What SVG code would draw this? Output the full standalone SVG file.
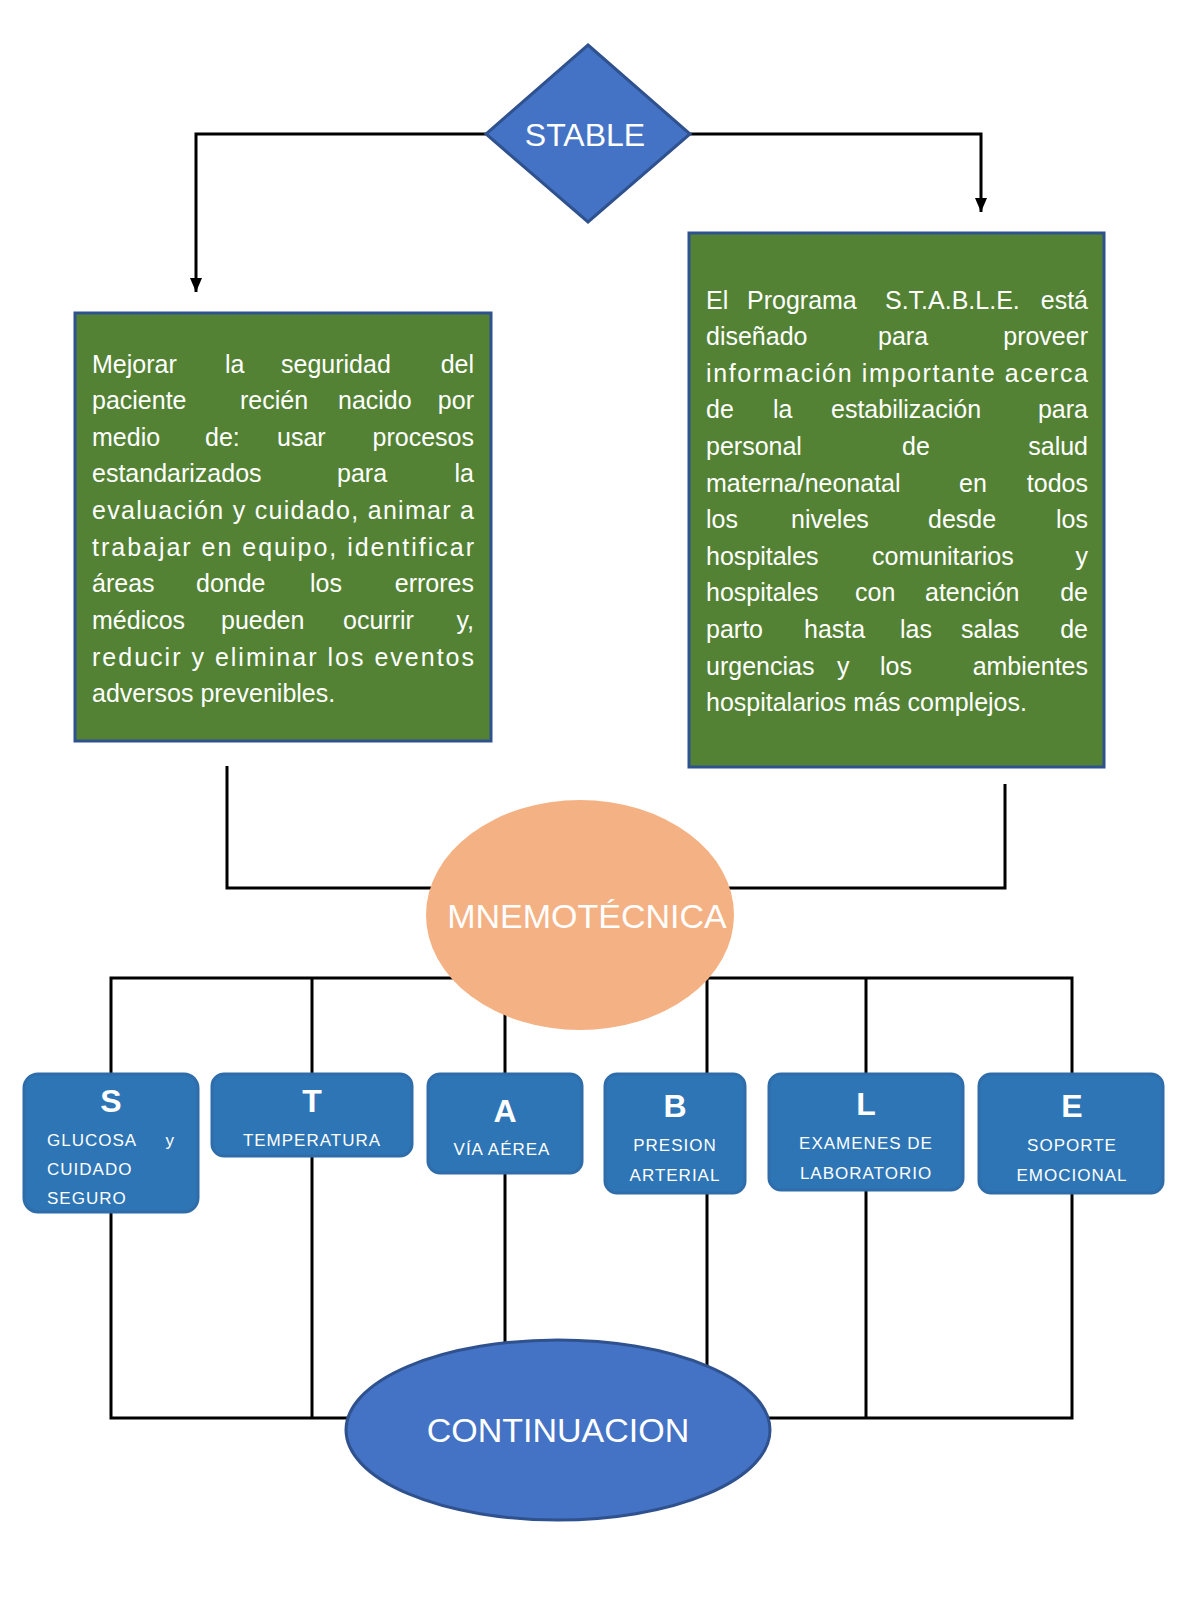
<svg xmlns="http://www.w3.org/2000/svg" width="1200" height="1600" viewBox="0 0 1200 1600">
<style>
.ln{fill:none;stroke:#000;stroke-width:3}
.g{fill:#548235;stroke:#2F528F;stroke-width:3}
.bx{fill:#2E75B6;stroke:#2F6DAA;stroke-width:3}
.t{font-family:"Liberation Sans",Arial,sans-serif;fill:#fff}
.p{font-size:25px}
.e{text-anchor:end}
.c{text-anchor:middle}
.L{font-size:32px;font-weight:bold}
.s{font-size:17px;letter-spacing:1px}
</style>
<defs>
<marker id="ad" markerWidth="12" markerHeight="14" refX="6" refY="14" orient="0" markerUnits="userSpaceOnUse"><path d="M0,0 L12,0 L6,14 Z" fill="#000"/></marker></defs>
<g id="connectors">
<path class="ln" d="M486,134 H196 V292" marker-end="url(#ad)"/>
<path class="ln" d="M690,134 H981 V212" marker-end="url(#ad)"/>
<path class="ln" d="M227,766 V888 H440"/>
<path class="ln" d="M1005,784 V888 H725"/>
<path class="ln" d="M111,1075 V978 H1072 V1075 M312,978 V1075 M505,978 V1075 M707,978 V1075 M866,978 V1075"/>
<path class="ln" d="M111,1212 V1418 H1072 V1193 M312,1156 V1418 M505,1173 V1360 M707,1193 V1418 M866,1190 V1418"/>
</g>
<g id="stable"><polygon points="588,45 690,134 588,222 486,134" fill="#4472C4" stroke="#2F528F" stroke-width="3"/><text class="t c" x="585" y="146" font-size="32">STABLE</text></g>
<g id="left">
<rect class="g" x="75" y="313" width="416" height="428"/>
<g class="t p">
<text x="92" y="373">Mejorar</text><text x="225" y="373">la</text><text x="281" y="373">seguridad</text><text class="e" x="474" y="373">del</text>
<text x="92" y="409">paciente</text><text x="240" y="409">recién</text><text x="338" y="409">nacido</text><text class="e" x="474" y="409">por</text>
<text x="92" y="446">medio</text><text x="205" y="446">de:</text><text x="277" y="446">usar</text><text class="e" x="474" y="446">procesos</text>
<text x="92" y="482">estandarizados</text><text x="337" y="482">para</text><text class="e" x="474" y="482">la</text>
<text x="92" y="519" textLength="382" lengthAdjust="spacing">evaluación y cuidado, animar a</text>
<text x="92" y="556" textLength="382" lengthAdjust="spacing">trabajar en equipo, identificar</text>
<text x="92" y="592">áreas</text><text x="196" y="592">donde</text><text x="310" y="592">los</text><text class="e" x="474" y="592">errores</text>
<text x="92" y="629">médicos</text><text x="221" y="629">pueden</text><text x="343" y="629">ocurrir</text><text class="e" x="474" y="629">y,</text>
<text x="92" y="666" textLength="382" lengthAdjust="spacing">reducir y eliminar los eventos</text>
<text x="92" y="702">adversos prevenibles.</text>
</g></g>
<g id="right">
<rect class="g" x="689" y="233" width="415" height="534"/>
<g class="t p">
<text x="706" y="309">El</text><text x="747" y="309">Programa</text><text x="885" y="309">S.T.A.B.L.E.</text><text class="e" x="1088" y="309">está</text>
<text x="706" y="345">diseñado</text><text x="878" y="345">para</text><text class="e" x="1088" y="345">proveer</text>
<text x="706" y="382" textLength="382" lengthAdjust="spacing">información importante acerca</text>
<text x="706" y="418">de</text><text x="773" y="418">la</text><text x="831" y="418">estabilización</text><text class="e" x="1088" y="418">para</text>
<text x="706" y="455">personal</text><text x="902" y="455">de</text><text class="e" x="1088" y="455">salud</text>
<text x="706" y="492">materna/neonatal</text><text x="959" y="492">en</text><text class="e" x="1088" y="492">todos</text>
<text x="706" y="528">los</text><text x="791" y="528">niveles</text><text x="928" y="528">desde</text><text class="e" x="1088" y="528">los</text>
<text x="706" y="565">hospitales</text><text x="872" y="565">comunitarios</text><text class="e" x="1088" y="565">y</text>
<text x="706" y="601">hospitales</text><text x="855" y="601">con</text><text x="925" y="601">atención</text><text class="e" x="1088" y="601">de</text>
<text x="706" y="638">parto</text><text x="804" y="638">hasta</text><text x="900" y="638">las</text><text x="961" y="638">salas</text><text class="e" x="1088" y="638">de</text>
<text x="706" y="675">urgencias</text><text x="837" y="675">y</text><text x="880" y="675">los</text><text class="e" x="1088" y="675">ambientes</text>
<text x="706" y="711">hospitalarios más complejos.</text>
</g></g>
<g id="mnemo"><ellipse cx="580" cy="915" rx="154" ry="115" fill="#F4B183"/><text class="t c" x="587" y="928" font-size="34">MNEMOTÉCNICA</text></g>
<g id="S"><rect class="bx" x="24" y="1074" width="174" height="138" rx="14"/><text class="t c L" x="111" y="1112">S</text><text class="t s" x="47" y="1146">GLUCOSA</text><text class="t s e" x="175" y="1146">y</text><text class="t s" x="47" y="1175">CUIDADO</text><text class="t s" x="47" y="1204">SEGURO</text></g>
<g id="T"><rect class="bx" x="212" y="1074" width="200" height="82" rx="12"/><text class="t c L" x="312" y="1112">T</text><text class="t c s" x="312" y="1146">TEMPERATURA</text></g>
<g id="A"><rect class="bx" x="428" y="1074" width="154" height="99" rx="12"/><text class="t c L" x="505" y="1122">A</text><text class="t c s" x="502" y="1155">VÍA AÉREA</text></g>
<g id="B"><rect class="bx" x="605" y="1074" width="140" height="119" rx="12"/><text class="t c L" x="675" y="1117">B</text><text class="t c s" x="675" y="1151">PRESION</text><text class="t c s" x="675" y="1181">ARTERIAL</text></g>
<g id="Lb"><rect class="bx" x="769" y="1074" width="194" height="116" rx="12"/><text class="t c L" x="866" y="1115">L</text><text class="t c s" x="866" y="1149">EXAMENES DE</text><text class="t c s" x="866" y="1179">LABORATORIO</text></g>
<g id="E"><rect class="bx" x="979" y="1074" width="184" height="119" rx="12"/><text class="t c L" x="1072" y="1117">E</text><text class="t c s" x="1072" y="1151">SOPORTE</text><text class="t c s" x="1072" y="1181">EMOCIONAL</text></g>
<g id="cont"><ellipse cx="558" cy="1430" rx="212" ry="90" fill="#4472C4" stroke="#2F528F" stroke-width="3"/><text class="t c" x="558" y="1442" font-size="34">CONTINUACION</text></g>
</svg>
